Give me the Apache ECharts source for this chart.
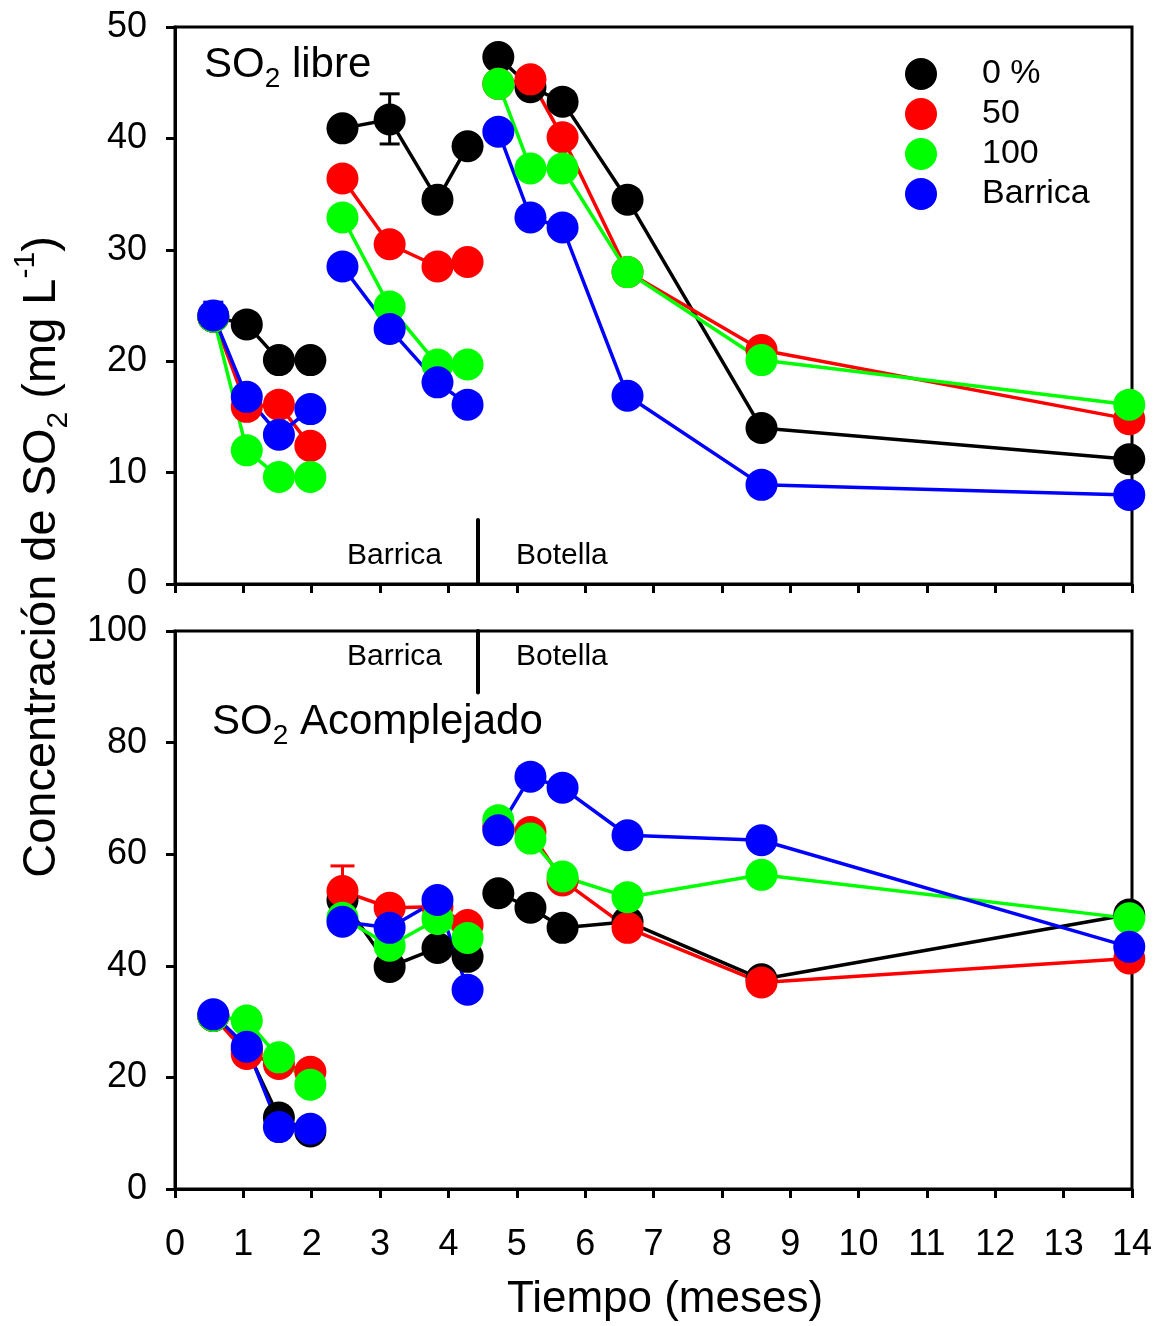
<!DOCTYPE html>
<html><head><meta charset="utf-8">
<script src="https://cdn.jsdelivr.net/npm/echarts@6/dist/echarts.min.js"></script>
<style>html,body{margin:0;padding:0;background:#fff}#c{width:1165px;height:1326px}</style>
</head><body><div id="c"></div>
<script>
// ---- data ----
const times = [0.56, 1.05, 1.52, 1.98, 2.45, 3.14, 3.84, 4.28, 4.73, 5.2, 5.67, 6.62, 8.58, 13.96];
const segmentEnds = [3, 7]; // line breaks after these indices
const treatments = ['0 %', '50', '100', 'Barrica'];

const libre0       = [24.0, 23.3, 20.1, 20.1, 40.9, 41.7, 34.5, 39.3, 47.3, 44.6, 43.3, 34.5, 14.0, 11.2];
const libre50      = [24.0, 15.9, 16.1, 12.4, 36.4, 30.5, 28.5, 28.9, 44.9, 45.3, 40.1, 28.0, 21.0, 14.8];
const libre100     = [24.0, 12.0,  9.6,  9.6, 32.9, 24.9, 19.7, 19.7, 44.9, 37.3, 37.3, 28.0, 20.1, 16.1];
const libreBarrica = [24.1, 16.8, 13.4, 15.7, 28.5, 22.9, 18.1, 16.1, 40.6, 32.9, 32.0, 16.9,  8.9,  8.0];

const acompl0       = [31.0, 25.0, 12.8, 10.3, 51.8, 39.8, 43.2, 41.6, 53.0, 50.4, 46.8, 47.9, 37.6, 49.2];
const acompl50      = [31.0, 24.2, 22.4, 21.0, 53.4, 50.4, 50.6, 47.3, 65.0, 64.0, 55.3, 46.8, 37.0, 41.3];
const acompl100     = [31.0, 30.2, 23.6, 18.7, 48.6, 43.6, 48.4, 45.0, 66.1, 62.8, 56.0, 52.3, 56.3, 48.5];
const acomplBarrica = [31.3, 25.5, 11.1, 10.8, 47.9, 46.8, 51.8, 35.7, 64.3, 73.9, 71.9, 63.4, 62.5, 43.4];

// error bars: x, low, high, treatment index
const errLibreX = [3.14, 0.56];
const errLibreLo = [39.5, 23.2];
const errLibreHi = [44.0, 25.3];
const errLibreT = [0, 3];
const errAcomplX = [2.45];
const errAcomplLo = [49.0];
const errAcomplHi = [57.9];
const errAcomplT = [1];

const separatorX = 4.43;
const xTickMax = 14, xTickStep = 1;
const libreMax = 50, libreStep = 10;
const acomplMax = 100, acomplStep = 20;

// ---- styles ----
const colors = ['#000000', '#ff0000', '#00ff00', '#0000ff'];
const FONT = '"Liberation Sans", Arial, sans-serif';

function build(vals) {
  const out = [];
  vals.forEach((v, i) => {
    out.push([times[i], v]);
    if (segmentEnds.includes(i)) out.push([(times[i] + times[i + 1]) / 2, '-']);
  });
  return out;
}

function lineSeries(name, vals, idx, ci) {
  return {
    name: name, type: 'line', xAxisIndex: idx, yAxisIndex: idx,
    data: build(vals), connectNulls: false, clip: false,
    symbol: 'circle', symbolSize: 32, showSymbol: true,
    lineStyle: { color: colors[ci], width: 3.5 },
    itemStyle: { color: colors[ci] },
    emphasis: { disabled: true }, z: 3
  };
}

function errSeries(xs, lo, hi, ts, idx, capHalf) {
  return {
    type: 'custom', xAxisIndex: idx, yAxisIndex: idx, z: 1, silent: true,
    data: xs.map((x, i) => [x, lo[i], hi[i], ts[i]]),
    encode: { x: 0, y: [1, 2] },
    renderItem: function (params, api) {
      const x = api.value(0), c = colors[api.value(3)];
      const p1 = api.coord([x, api.value(1)]), p2 = api.coord([x, api.value(2)]);
      const st = { stroke: c, lineWidth: 3 };
      return { type: 'group', children: [
        { type: 'line', shape: { x1: p1[0], y1: p1[1], x2: p2[0], y2: p2[1] }, style: st },
        { type: 'line', shape: { x1: p1[0] - capHalf, y1: p1[1], x2: p1[0] + capHalf, y2: p1[1] }, style: st },
        { type: 'line', shape: { x1: p2[0] - capHalf, y1: p2[1], x2: p2[0] + capHalf, y2: p2[1] }, style: st }
      ] };
    }
  };
}

function sepSeries(idx, y0, y1) {
  return {
    type: 'line', xAxisIndex: idx, yAxisIndex: idx, data: [], silent: true,
    markLine: {
      silent: true, symbol: 'none', label: { show: false },
      lineStyle: { color: '#000', width: 4, type: 'solid', cap: 'round' },
      data: [[{ coord: [separatorX, y0] }, { coord: [separatorX, y1] }]]
    }
  };
}

const axisLineStyle = { color: '#000', width: 3 };
function xAxis(idx, showLabel) {
  return {
    type: 'value', gridIndex: idx, min: 0, max: xTickMax, interval: xTickStep,
    axisLine: { show: true, onZero: false, lineStyle: axisLineStyle },
    axisTick: { show: true, inside: false, length: 9, lineStyle: { color: '#000', width: 3 } },
    axisLabel: { show: showLabel, fontSize: 36, color: '#000', fontFamily: FONT, margin: 38 },
    splitLine: { show: false }
  };
}
function yAxis(idx, max, step) {
  return {
    type: 'value', gridIndex: idx, min: 0, max: max, interval: step,
    axisLine: { show: true, onZero: false, lineStyle: axisLineStyle },
    axisTick: { show: true, inside: false, length: 9, lineStyle: { color: '#000', width: 3 } },
    axisLabel: { fontSize: 36, color: '#000', fontFamily: FONT, margin: 28 },
    splitLine: { show: false }
  };
}

function richText(text, x, y, size, subSize, align, rot) {
  return {
    type: 'text', x: x, y: y, rotation: rot || 0, silent: true,
    style: {
      text: text, x: 0, y: 0, fill: '#000',
      align: align || 'left', textAlign: align || 'left',
      verticalAlign: 'middle', textVerticalAlign: 'middle',
      fontSize: size, fontFamily: FONT,
      rich: {
        n: { fontSize: size, fontFamily: FONT, lineHeight: Math.round(size * 1.35), fill: '#000' },
        s: { fontSize: subSize, fontFamily: FONT, lineHeight: subSize, verticalAlign: 'bottom', fill: '#000' },
        u: { fontSize: subSize, fontFamily: FONT, lineHeight: subSize, verticalAlign: 'top', fill: '#000' }
      }
    }
  };
}
function plainText(text, x, y, size, align) {
  return {
    type: 'text', x: x, y: y, silent: true,
    style: { text: text, x: 0, y: 0, fill: '#000', fontSize: size, fontFamily: FONT,
      align: align || 'left', textAlign: align || 'left', verticalAlign: 'middle', textVerticalAlign: 'middle' }
  };
}

const libreSets = [libre0, libre50, libre100, libreBarrica];
const acomplSets = [acompl0, acompl50, acompl100, acomplBarrica];

const series = [];
series.push(errSeries(errLibreX, errLibreLo, errLibreHi, errLibreT, 0, 10));
series.push(errSeries(errAcomplX, errAcomplLo, errAcomplHi, errAcomplT, 1, 12));
libreSets.forEach((v, i) => series.push(lineSeries(treatments[i], v, 0, i)));
acomplSets.forEach((v, i) => series.push(lineSeries(treatments[i], v, 1, i)));
series.push(sepSeries(0, 0, 5.75));
series.push(sepSeries(1, 89.0, 100));

const chart = echarts.init(document.getElementById('c'), null, { renderer: 'canvas' });
chart.setOption({
  animation: false,
  backgroundColor: '#fff',
  grid: [
    { left: 175, top: 27, width: 957, height: 557, show: true, borderColor: '#000', borderWidth: 3, backgroundColor: 'transparent', containLabel: false },
    { left: 175, top: 631, width: 957, height: 558, show: true, borderColor: '#000', borderWidth: 3, backgroundColor: 'transparent', containLabel: false }
  ],
  xAxis: [xAxis(0, false), xAxis(1, true)],
  yAxis: [yAxis(0, libreMax, libreStep), yAxis(1, acomplMax, acomplStep)],
  legend: {
    data: treatments, orient: 'vertical', left: 900, top: 52,
    itemWidth: 112, itemHeight: 32, itemGap: 6, icon: 'circle', selectedMode: false,
    textStyle: { fontSize: 34, color: '#000', fontFamily: FONT, lineHeight: 32 }
  },
  graphic: [
    richText('{n|SO}{s|2}{n| libre}', 204, 65, 42, 28, 'left'),
    richText('{n|SO}{s|2}{n| Acomplejado}', 212, 722, 42, 28, 'left'),
    plainText('Barrica', 347, 556, 30, 'left'),
    plainText('Botella', 516, 556, 30, 'left'),
    plainText('Barrica', 347, 657, 30, 'left'),
    plainText('Botella', 516, 657, 30, 'left'),
    plainText('Tiempo (meses)', 665, 1300, 44, 'center'),
    richText('{n|Concentración de SO}{s|2}{n| (mg L}{u|-1}{n|)}', 42, 557, 47, 30, 'center', Math.PI / 2)
  ],
  series: series
});
</script></body></html>
